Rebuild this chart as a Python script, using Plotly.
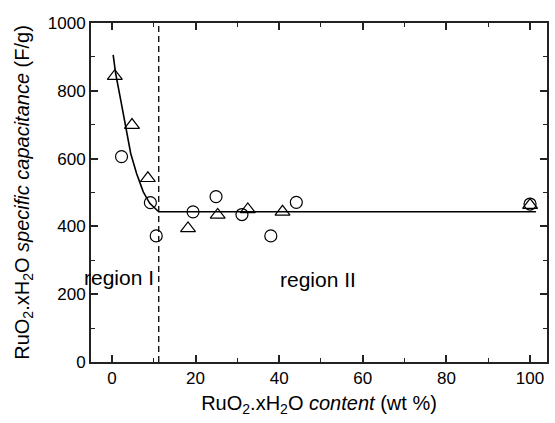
import plotly.graph_objects as go

# Data
tri_x = [0.7, 4.8, 8.6, 18.2, 25.3, 32.5, 40.8, 100]
tri_y = [843, 699, 542, 394, 434, 450, 443, 463]
circ_x = [2.3, 9.2, 10.6, 19.4, 24.9, 31.1, 38.0, 44.1, 100]
circ_y = [606, 470, 372, 443, 488, 435, 372, 471, 466]
fit_x = [0.3, 0.9, 2.1, 3.3, 4.5, 5.9, 7.5, 9.05, 11.2, 101.4]
fit_y = [906, 851, 773, 694, 615, 556, 502, 468, 443, 443]
boundary_x = 11.2
x_ticks = [0, 20, 40, 60, 80, 100]
y_ticks = [0, 200, 400, 600, 800, 1000]

FONT = "Arial, Liberation Sans, Helvetica, sans-serif"

fig = go.Figure()
fig.add_trace(go.Scatter(x=fit_x, y=fit_y, mode="lines",
                         line=dict(color="black", width=1.6), showlegend=False))
fig.add_trace(go.Scatter(x=[boundary_x, boundary_x], y=[0, 1000], mode="lines",
                         line=dict(color="black", width=1.3, dash="6px,4px"), showlegend=False))
fig.add_trace(go.Scatter(x=tri_x, y=tri_y, mode="markers",
                         marker=dict(symbol="triangle-up-open", size=13, color="black",
                                     line=dict(width=1.2, color="black")), showlegend=False))
fig.add_trace(go.Scatter(x=circ_x, y=circ_y, mode="markers",
                         marker=dict(symbol="circle-open", size=12, color="black",
                                     line=dict(width=1.2, color="black")), showlegend=False))

fig.add_annotation(x=1.8, y=248, text="region I", showarrow=False,
                   font=dict(family=FONT, size=21, color="black"))
fig.add_annotation(x=49.4, y=242, text="region II", showarrow=False,
                   font=dict(family=FONT, size=21, color="black"))

axis_common = dict(showline=True, linecolor="#222", linewidth=1.8, mirror="ticks",
                   ticks="inside", ticklen=7, tickwidth=1.5, tickcolor="#222",
                   showgrid=False, zeroline=False,
                   tickfont=dict(family=FONT, size=17, color="black"))

fig.update_xaxes(range=[-5, 104.05], tickvals=x_ticks,
                 minor=dict(ticks="inside", ticklen=4, dtick=10, tick0=0, tickcolor="#222", tickwidth=1.3),
                 title=dict(text="RuO<sub>2</sub>.xH<sub>2</sub>O <i>content</i> (wt %)",
                            font=dict(family=FONT, size=20, color="black"), standoff=9),
                 **axis_common)
fig.update_yaxes(range=[0, 1000], tickvals=y_ticks,
                 minor=dict(ticks="inside", ticklen=4, dtick=100, tick0=0, tickcolor="#222", tickwidth=1.3),
                 title=dict(text="RuO<sub>2</sub>.xH<sub>2</sub>O <i>specific capacitance</i> (F/g)",
                            font=dict(family=FONT, size=20, color="black"), standoff=13),
                 **axis_common)

fig.update_layout(width=555, height=423, margin=dict(l=91, r=6, t=23, b=61),
                  plot_bgcolor="white", paper_bgcolor="white")

fig.write_html("out.html")
